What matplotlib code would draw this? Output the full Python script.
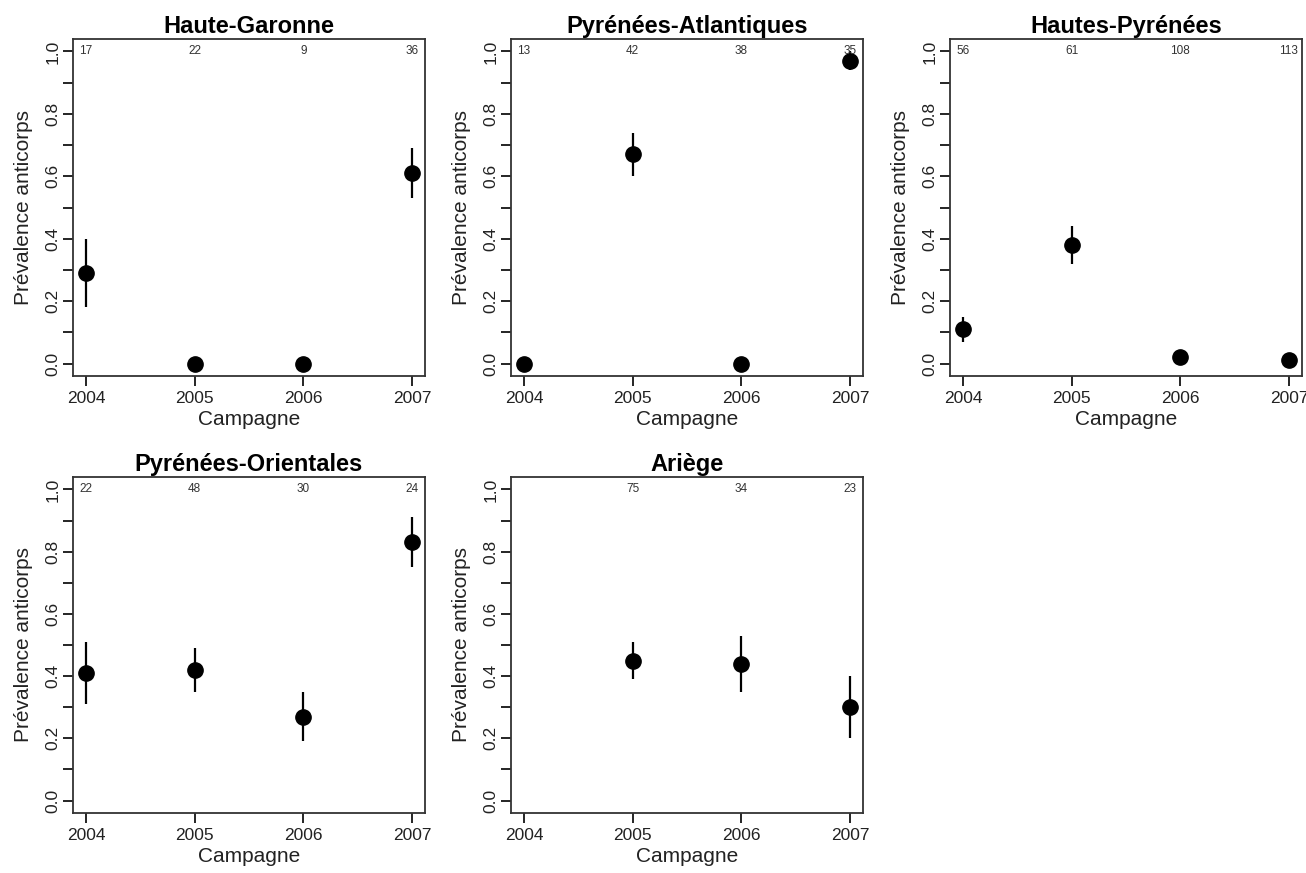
import numpy as np
import matplotlib
matplotlib.use("Agg")
import matplotlib.pyplot as plt

plt.rcParams["font.family"] = ["Liberation Sans", "DejaVu Sans"]

years = [2004, 2005, 2006, 2007]

departements = ["Haute-Garonne", "Pyrénées-Atlantiques", "Hautes-Pyrénées",
                "Pyrénées-Orientales", "Ariège"]

# prevalence, lower and upper bounds, sample sizes (nan = no campaign)
prev_hg = [0.29, 0.0, 0.0, 0.61]
low_hg = [0.18, 0.0, 0.0, 0.53]
high_hg = [0.40, 0.0, 0.0, 0.69]
n_hg = [17, 22, 9, 36]

prev_pa = [0.0, 0.67, 0.0, 0.97]
low_pa = [0.0, 0.60, 0.0, 0.94]
high_pa = [0.0, 0.74, 0.0, 1.0]
n_pa = [13, 42, 38, 35]

prev_hp = [0.11, 0.38, 0.02, 0.01]
low_hp = [0.07, 0.32, 0.02, 0.01]
high_hp = [0.15, 0.44, 0.02, 0.01]
n_hp = [56, 61, 108, 113]

prev_po = [0.41, 0.42, 0.27, 0.83]
low_po = [0.31, 0.35, 0.19, 0.75]
high_po = [0.51, 0.49, 0.35, 0.91]
n_po = [22, 48, 30, 24]

prev_ar = [np.nan, 0.45, 0.44, 0.30]
low_ar = [np.nan, 0.39, 0.35, 0.20]
high_ar = [np.nan, 0.51, 0.53, 0.40]
n_ar = [None, 75, 34, 23]

series = [
    (prev_hg, low_hg, high_hg, n_hg),
    (prev_pa, low_pa, high_pa, n_pa),
    (prev_hp, low_hp, high_hp, n_hp),
    (prev_po, low_po, high_po, n_po),
    (prev_ar, low_ar, high_ar, n_ar),
]

W, H = 1306, 873
fig = plt.figure(figsize=(W / 100, H / 100), dpi=100)

# panel boxes in pixels: (left, top, right, bottom)
boxes = [
    (73, 39, 425, 376),
    (511, 39, 863, 376),
    (950, 39, 1302, 376),
    (73, 477, 425, 813),
    (511, 477, 863, 813),
]

yt = np.arange(0, 1.01, 0.1)

for name, (prev, low, high, n), (l, t, r, b) in zip(departements, series, boxes):
    ax = fig.add_axes([l / W, 1 - b / H, (r - l) / W, (b - t) / H])
    prev = np.array(prev, dtype=float)
    low = np.array(low, dtype=float)
    high = np.array(high, dtype=float)
    ax.vlines(years, low, high, color="black", linewidth=1.6)
    ax.plot(years, prev, "o", color="black", markersize=11)
    for x, count in zip(years, n):
        if count is not None:
            ax.text(x, 1.0, str(count), ha="center", va="center",
                    fontsize=8.5, color="#333333")

    ax.set_xlim(2003.88, 2007.12)
    ax.set_ylim(-0.04, 1.04)
    ax.set_xticks(years)
    ax.set_yticks(yt)
    ax.set_yticklabels([f"{v:.1f}" if i % 2 == 0 else "" for i, v in enumerate(yt)],
                       rotation=90, va="center")
    ax.tick_params(direction="out", length=7, width=1.2, labelsize=12.5,
                   colors="black", labelcolor="#222222")
    ax.tick_params(axis="x", pad=4)
    ax.tick_params(axis="y", pad=2)
    for s in ax.spines.values():
        s.set_linewidth(1.3)
        s.set_color("#333333")
    ax.set_title(name, fontsize=17, fontweight="bold", pad=4)
    ax.set_xlabel("Campagne", fontsize=15, labelpad=3, color="#222222")
    ax.set_ylabel("Prévalence anticorps", fontsize=15, labelpad=9,
                  color="#222222")

fig.savefig("out.png", dpi=100, facecolor="white")
